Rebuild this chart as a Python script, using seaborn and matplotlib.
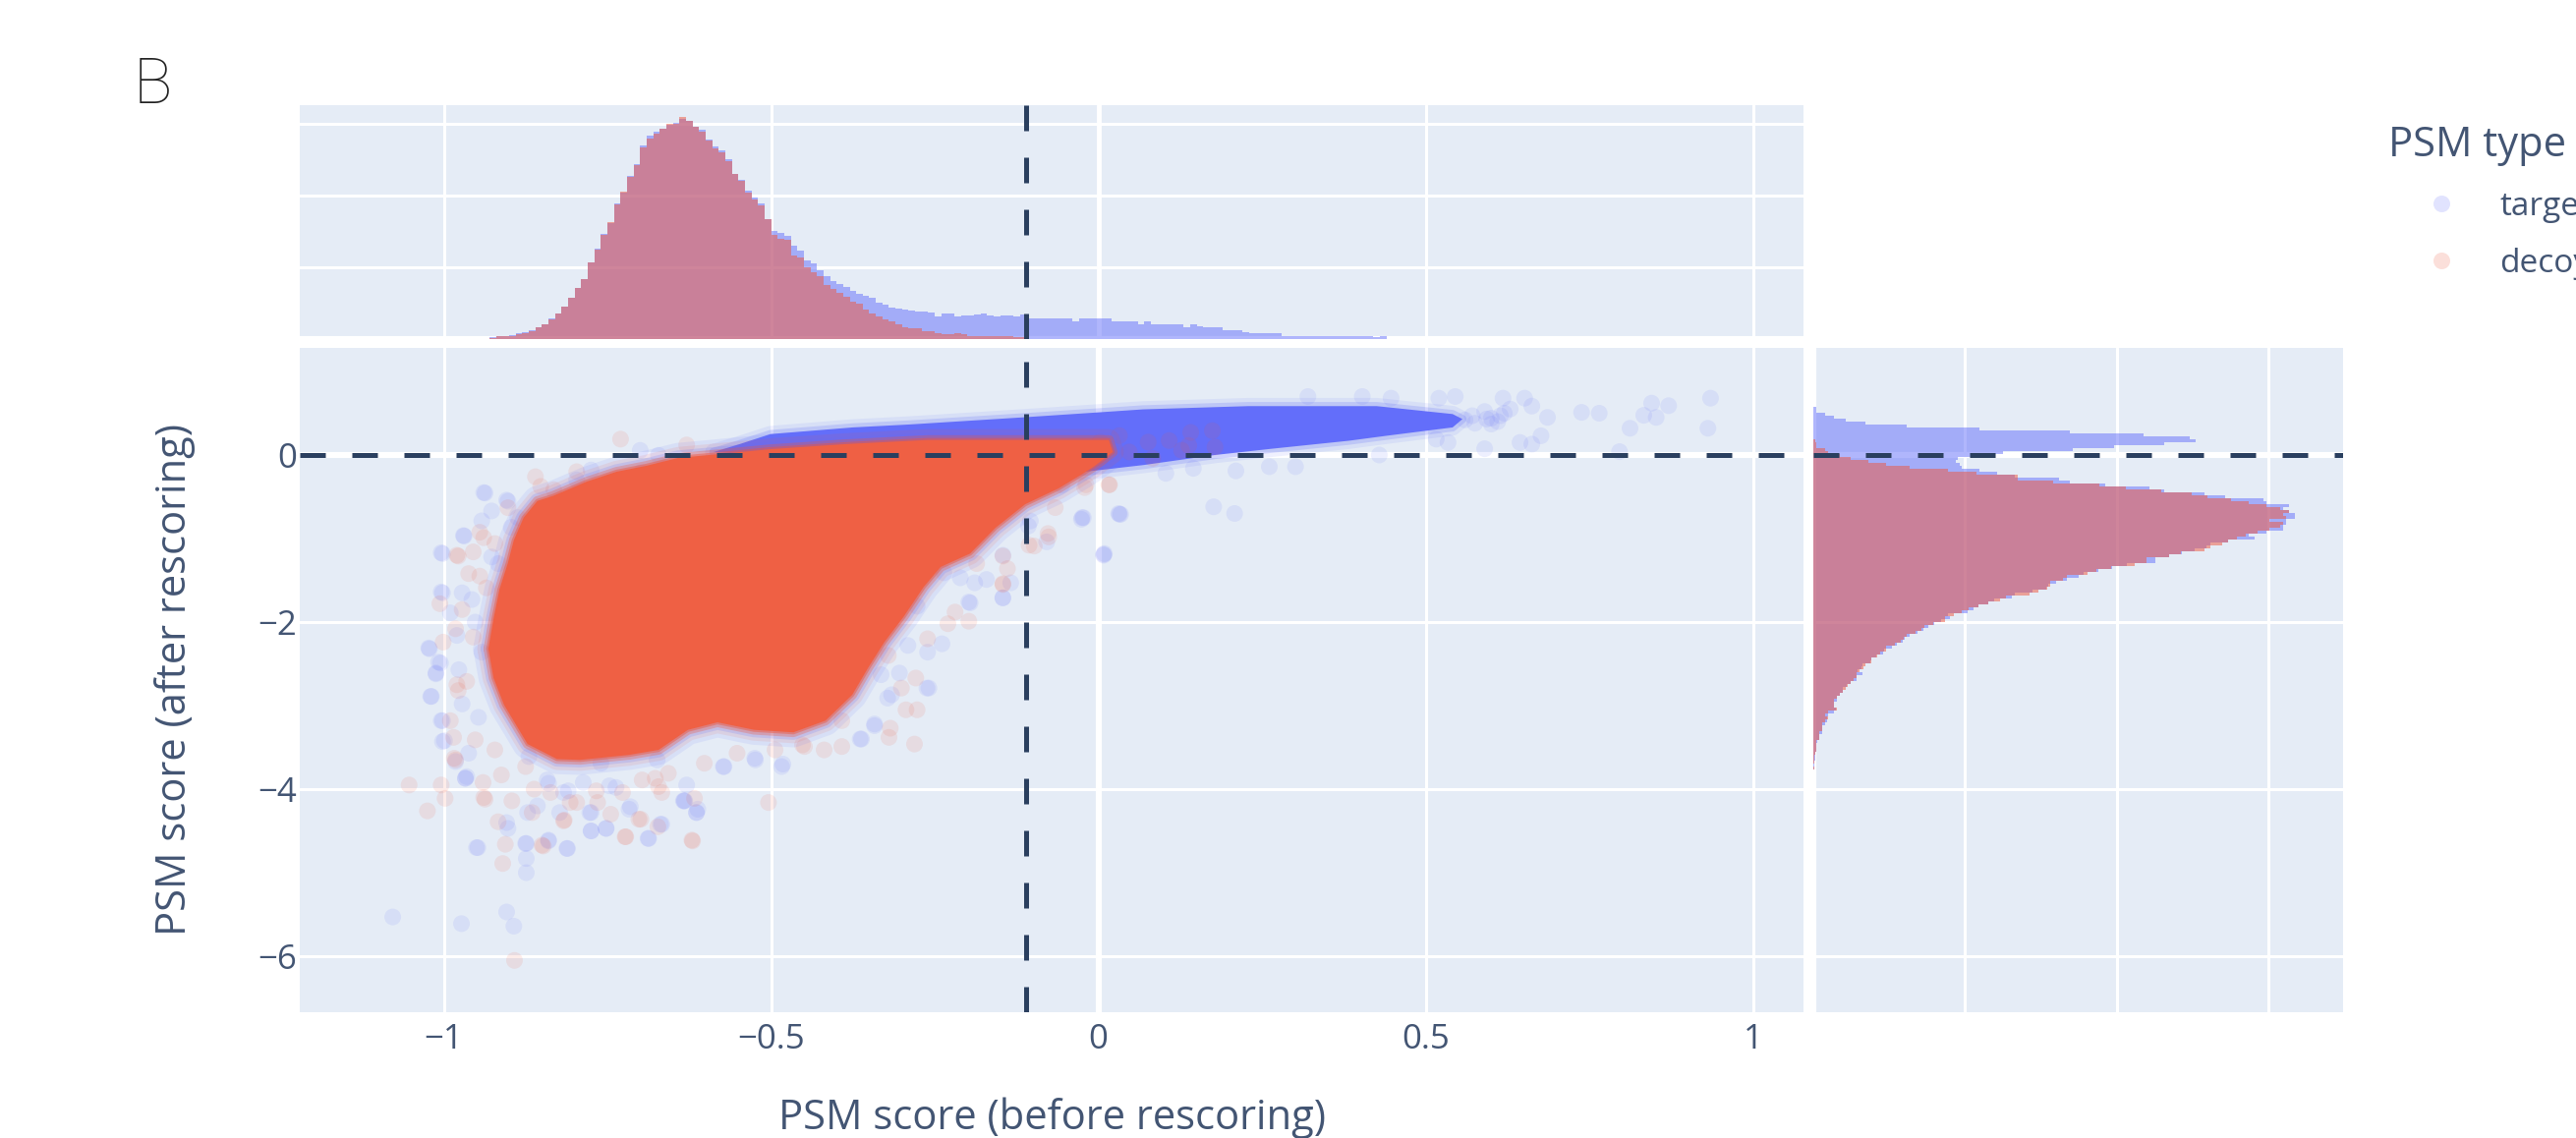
import numpy as np
import pandas as pd
import matplotlib.pyplot as plt
import seaborn as sns

TARGET = "#636EFA"
DECOY = "#EF553B"
DECOY_SOLID = "#EF6044"
INK = "#2a3f5f"
TEXT = "#435573"
PANEL = "#E5ECF6"

x_ticks = [-1, -0.5, 0, 0.5, 1]
x_tick_labels = ["−1", "−0.5", "0", "0.5", "1"]
y_ticks = [-6, -4, -2, 0]
y_tick_labels = ["−6", "−4", "−2", "0"]
before_cut = -0.11
after_cut = 0

# top histogram, bins of 0.01 starting at -0.93
top_start = -0.93
top_width = 0.01
top_target = [46, 73, 82, 100, 155, 183, 247, 320, 411, 566,
              703, 913, 1141, 1415, 1671, 2146, 2511, 2922, 3241, 3771,
              4081, 4538, 4866, 5387, 5661, 5779, 5871, 5980, 6026, 6145,
              6071, 5907, 5843, 5569, 5359, 5250, 5022, 4592, 4428, 4136,
              3953, 3789, 3332, 3013, 2967, 2876, 2602, 2465, 2191, 2100,
              1917, 1762, 1616, 1525, 1461, 1342, 1251, 1214, 1141, 1004,
              959, 886, 849, 822, 794, 758, 776, 730, 639, 703,
              703, 639, 648, 666, 685, 703, 657, 639, 657, 657,
              621, 685, 575, 575, 575, 575, 575, 575, 575, 502,
              575, 575, 575, 575, 566, 502, 493, 493, 493, 411,
              493, 411, 411, 411, 411, 411, 329, 411, 365, 329,
              329, 329, 247, 247, 247, 183, 164, 164, 164, 164,
              164, 82, 82, 82, 82, 82, 82, 82, 82, 82,
              82, 82, 82, 82, 82, 60, 82]
top_decoy = [40, 75, 82, 85, 140, 155, 210, 320, 420, 550,
             700, 900, 1150, 1420, 1680, 2130, 2500, 2900, 3260, 3750,
             4100, 4520, 4840, 5350, 5600, 5730, 5850, 6000, 6000, 6180,
             6080, 5920, 5780, 5540, 5320, 5210, 4960, 4600, 4400, 4080,
             3900, 3720, 3330, 2900, 2800, 2780, 2330, 2280, 2000, 1870,
             1760, 1500, 1400, 1280, 1180, 1050, 980, 820, 700, 620,
             550, 480, 400, 320, 310, 300, 230, 210, 160, 150,
             150, 155, 150, 85, 85, 85, 80, 80, 78, 75,
             55, 55]

# right histogram, rows of 0.0353 going down from 0.576
right_start = 0.576
right_width = 0.0353
right_target = [38, 38, 153, 268, 426, 685, 1226, 2184, 3377, 4349,
                4958, 5034, 4622, 3961, 3415, 2500, 2069, 1900, 1878, 1925,
                1959, 2184, 2419, 2654, 3233, 3377, 3841, 4426, 4618, 5154,
                5422, 5930, 5968, 6265, 6189, 6265, 6342, 6342, 6227, 6227,
                6189, 6189, 5968, 5734, 5810, 5460, 5230, 5180, 5030, 4850,
                4685, 4503, 4503, 4130, 3940, 3750, 3560, 3500, 3340, 3195,
                3100, 3075, 2885, 2654, 2610, 2380, 2300, 2180, 2108, 2030,
                1780, 1806, 1686, 1590, 1520, 1447, 1375, 1270, 1207, 1183,
                1102, 1030, 930, 920, 824, 766, 752, 647, 632, 584,
                647, 570, 570, 489, 441, 393, 383, 350, 307, 307,
                273, 273, 297, 268, 192, 177, 177, 153, 115, 115,
                115, 77, 77, 57, 38, 38, 38, 30, 20, 20,
                10, 10, 10]
right_decoy = [0, 0, 0, 0, 0, 0, 0, 0, 0, 0,
               0, 20, 38, 38, 150, 200, 345, 490, 730, 960,
               1270, 1770, 2145, 2690, 2690, 3157, 3765, 4115, 4585, 4990,
               5188, 5504, 5734, 5968, 6150, 6265, 6189, 6227, 6007, 6189,
               6150, 6007, 5853, 5695, 5580, 5460, 5384, 5230, 5160, 4842,
               4685, 4390, 4390, 4234, 3923, 3725, 3610, 3340, 3290, 3120,
               3120, 3080, 2965, 2845, 2535, 2457, 2305, 2180, 2045, 1955,
               1850, 1735, 1735, 1576, 1460, 1423, 1346, 1226, 1188, 1150,
               1073, 958, 958, 877, 838, 762, 762, 685, 656, 613,
               565, 565, 527, 489, 450, 426, 388, 350, 311, 268,
               268, 268, 307, 192, 153, 192, 153, 115, 115, 115,
               77, 77, 77, 38, 38, 38, 38, 30, 15, 10,
               10, 0, 10]

# outlines of the areas where the points pile up into a solid colour
decoy_core_x = [-0.932, -0.924, -0.915, -0.902, -0.893, -0.878, -0.857, -0.833, -0.782, -0.736,
                -0.691, -0.642, -0.594, -0.501, -0.387, -0.261, -0.145, -0.031, 0.016, 0.022,
                -0.007, -0.026, -0.061, -0.112, -0.157, -0.196, -0.241, -0.267, -0.297, -0.327,
                -0.352, -0.376, -0.417, -0.466, -0.526, -0.582, -0.627, -0.672, -0.717, -0.792,
                -0.827, -0.872, -0.908, -0.924]
decoy_core_y = [-2.32, -1.96, -1.61, -1.29, -1.02, -0.75, -0.55, -0.49, -0.32, -0.20,
                -0.13, -0.035, 0.0, 0.07, 0.13, 0.18, 0.18, 0.18, 0.18, 0.035,
                -0.14, -0.235, -0.40, -0.59, -0.87, -1.18, -1.34, -1.58, -1.93, -2.24,
                -2.55, -2.87, -3.18, -3.32, -3.29, -3.20, -3.29, -3.53, -3.59, -3.65,
                -3.64, -3.46, -2.99, -2.67]
target_core_x = [-0.588, -0.548, -0.501, -0.375, -0.289, -0.116, 0.0, 0.068, 0.229, 0.425,
                 0.541, 0.556, 0.541, 0.440, 0.382, 0.265, 0.178, 0.069, -0.020, -0.300]
target_core_y = [0.035, 0.13, 0.25, 0.33, 0.365, 0.45, 0.51, 0.546, 0.585, 0.585,
                 0.49, 0.43, 0.33, 0.23, 0.17, 0.075, 0.0, -0.12, -0.20, -0.10]

# single points that can still be told apart
target_x = [-0.939, -0.904, -0.969, -1.004, -1.004, -1.023, -1.008, -1.012, -1.019, -1.004,
            -0.999, -0.967, -0.948, -0.874, -0.874, -0.811, -0.775, -0.752, -0.688, -0.669,
            -0.614, -0.633, -0.573, -0.525, -0.482, -0.262, -0.198, -0.146, -0.107, -0.025,
            0.031, 0.009, 0.176, -1.078, -0.973, -0.904, -0.893, -0.874, -0.840, -0.904,
            -0.823, -0.775, -0.715, -0.698, 0.651, 0.662, 0.686, 0.676, 0.644, 0.662,
            0.590, 0.738, 0.765, 0.845, 0.871, 0.833, 0.852, 0.812, 0.796, 0.935,
            0.931, 0.210, 0.261, 0.301, 0.208, 0.032, 0.008, -0.023, 0.145, 0.103,
            0.429, 0.516, 0.534, 0.593, 0.618, 0.545, 0.520, 0.447, 0.403, 0.320,
            0.614, 0.571, 0.600, 0.629, 0.590, 0.610, 0.575, 0.620, 0.600, 0.560,
            -0.937, -0.902, -0.927, -0.970, -1.002, -0.942, -0.887, -0.897, -0.927, -1.002,
            -0.972, -0.990, -0.957, -0.980, -1.022, -1.005, -1.012, -0.977, -1.020, -0.972,
            -1.002, -0.947, -1.002, -0.982, -0.965, -0.962, -0.942, -0.952, -0.917, -0.797,
            -0.775, -0.700, -0.672, -0.842, -0.870, -0.817, -0.737, -0.632, -0.787, -0.872,
            -0.760, -0.674, -0.612, -0.572, -0.524, -0.484, -0.362, -0.342, -0.322, -0.629,
            -0.634, -0.614, -0.717, -0.747, -0.840, -0.810, -0.857, -0.777, -0.775, -0.752,
            -0.687, -0.667, -0.950, -0.875, -0.812, -0.840, -0.902, -0.967, -0.277, -0.196,
            -0.146, -0.134, -0.171, -0.189, -0.211, -0.236, -0.261, -0.239, -0.291, -0.304,
            -0.332, -0.316, -0.259, -0.342, -0.364, -0.026, 0.008, 0.034, -0.079, -0.104,
            -0.146, -0.024, -0.056]
target_y = [-0.45, -0.54, -0.97, -1.17, -1.64, -2.31, -2.48, -2.62, -2.89, -3.18,
            -3.42, -3.87, -4.70, -4.65, -5.00, -4.71, -4.50, -4.47, -4.59, -4.42,
            -4.28, -4.14, -3.73, -3.63, -3.70, -2.79, -1.76, -1.71, -0.85, -0.75,
            -0.70, -1.18, -0.62, -5.53, -5.61, -5.47, -5.64, -4.83, -4.62, -4.40,
            -4.28, -4.28, -4.21, -0.21, 0.68, 0.585, 0.45, 0.23, 0.15, 0.13,
            0.075, 0.51, 0.50, 0.62, 0.59, 0.475, 0.45, 0.32, 0.04, 0.68,
            0.32, -0.19, -0.14, -0.14, -0.70, -0.71, -1.19, -0.75, -0.16, -0.22,
            0.0, 0.19, 0.15, 0.43, 0.68, 0.70, 0.68, 0.68, 0.70, 0.70,
            0.47, 0.47, 0.37, 0.55, 0.52, 0.40, 0.38, 0.50, 0.44, 0.42,
            -0.455, -0.553, -0.670, -0.964, -1.18, -0.788, -0.749, -0.866, -1.22, -1.65,
            -1.65, -1.89, -1.73, -2.16, -2.32, -2.49, -2.61, -2.57, -2.89, -2.98,
            -3.18, -3.14, -3.43, -3.67, -3.85, -3.57, -2.36, -2.00, -1.30, -0.298,
            -0.18, 0.055, -0.004, -3.89, -3.61, -4.04, -3.98, -4.14, -3.92, -4.28,
            -3.69, -3.65, -4.24, -3.73, -3.65, -3.73, -3.40, -3.24, -2.91, -3.95,
            -4.14, -4.28, -4.24, -3.96, -3.93, -4.02, -4.20, -4.28, -4.50, -4.47,
            -4.59, -4.42, -4.70, -4.65, -4.71, -4.61, -4.47, -3.87, -1.81, -1.77,
            -1.71, -1.53, -1.49, -1.53, -1.47, -1.41, -2.36, -2.26, -2.28, -2.61,
            -2.63, -2.87, -2.79, -3.22, -3.40, -0.77, -1.20, -0.71, -1.04, -0.79,
            -1.20, -0.10, -0.36]
decoy_x = [-0.730, -0.629, -0.860, -1.053, -1.004, -0.998, -1.025, -1.006, -0.978, -0.939,
           -0.922, -1.001, -0.984, -0.917, -0.906, -0.910, -0.848, -0.816, -0.723, -0.699,
           -0.673, -0.620, -0.617, -0.504, -0.281, -0.277, -0.294, -0.318, -0.320, -0.219,
           -0.198, -0.230, -0.146, -0.892, -0.745, -0.797, -0.896, -0.939, -0.672, -0.978,
           -0.098, -0.077, -0.146, -0.021, -0.852, -0.902, -0.945, -0.955, -0.980, -0.945,
           -0.962, -0.935, -0.972, -0.982, -0.955, -0.980, -0.965, -0.990, -0.985, -0.952,
           -0.982, -0.922, -0.912, -0.940, -0.937, -0.862, -0.807, -0.837, -0.767, -0.677,
           -0.697, -0.797, -0.832, -0.875, -0.727, -0.657, -0.667, -0.552, -0.602, -0.452,
           -0.419, -0.392, -0.494, -0.702, -0.722, -0.621, -0.765, -0.817, -0.865, -0.850,
           -0.146, -0.139, -0.186, -0.076, -0.106, -0.066, 0.016, -0.279, -0.301, -0.449,
           -0.392, -0.321, -0.261, 0.003, 0.003, 0.032, 0.076, 0.108, 0.141, 0.138,
           0.174, 0.178, -0.019, 0.017, 0.083, 0.127, 0.047]
decoy_y = [0.19, 0.12, -0.26, -3.95, -3.95, -4.11, -4.26, -1.78, -1.21, -0.99,
           -1.06, -2.24, -3.63, -4.39, -4.66, -4.89, -4.68, -4.37, -4.57, -4.36,
           -4.45, -4.62, -4.11, -4.16, -3.46, -3.05, -3.05, -3.27, -3.38, -1.88,
           -1.99, -2.02, -1.54, -6.05, -4.30, -4.16, -4.14, -4.10, -3.97, -2.82,
           -1.09, -0.94, -1.21, -0.39, -0.376, -0.631, -0.925, -1.16, -1.20, -1.45,
           -1.42, -1.59, -1.85, -2.08, -2.18, -2.75, -2.71, -3.18, -3.38, -3.41,
           -3.65, -3.53, -3.83, -3.92, -4.12, -4.00, -4.16, -4.04, -4.02, -3.87,
           -3.89, -0.20, -0.416, -3.73, -4.04, -3.81, -4.04, -3.57, -3.69, -3.47,
           -3.53, -3.49, -3.53, -4.36, -4.57, -4.61, -4.16, -4.38, -4.28, -4.67,
           -1.55, -1.36, -1.30, -0.98, -1.08, -0.63, -0.357, -2.67, -2.79, -3.49,
           -3.18, -2.40, -2.20, 0.154, -0.04, 0.232, 0.154, 0.173, 0.27, 0.114,
           0.291, 0.095, -0.356, -0.356, -0.04, 0.056, 0.036]

points = pd.DataFrame({
    "before": target_x + decoy_x,
    "after": target_y + decoy_y,
    "PSM type": ["target"] * len(target_x) + ["decoy"] * len(decoy_x),
})

sns.set_style("darkgrid", {"axes.facecolor": PANEL, "grid.color": "white"})
plt.rcParams["font.family"] = ["Open Sans", "DejaVu Sans"]
plt.rcParams["text.color"] = TEXT
plt.rcParams["axes.labelcolor"] = TEXT
plt.rcParams["xtick.color"] = TEXT
plt.rcParams["ytick.color"] = TEXT

W, H = 2621, 1158
fig = plt.figure(figsize=(W / 100, H / 100), dpi=100)


def panel(left, top, right, bottom):
    return fig.add_axes([left / W, 1 - bottom / H, (right - left) / W, (bottom - top) / H])


ax_main = panel(305, 354, 1835, 1030)
ax_top = panel(305, 107, 1835, 345)
ax_right = panel(1845, 354, 2384, 1030)

GRID = 2.2
ZERO = 4.4
DASH = dict(color=INK, lw=3.6, ls=(0, (5.2, 5.4)), zorder=8)

# --- scatter, soft edges are strokes along the outlines
target_closed_x = target_core_x + target_core_x[:1]
target_closed_y = target_core_y + target_core_y[:1]
decoy_closed_x = decoy_core_x + decoy_core_x[:1]
decoy_closed_y = decoy_core_y + decoy_core_y[:1]

for width, alpha in [(12, 0.10), (6, 0.22)]:
    ax_main.plot(target_closed_x, target_closed_y, color=TARGET, lw=width, alpha=alpha,
                 solid_joinstyle="round", zorder=3)
ax_main.fill(target_core_x, target_core_y, color=TARGET, lw=0, zorder=3)

sns.scatterplot(data=points, x="before", y="after", hue="PSM type",
                palette={"target": TARGET, "decoy": DECOY},
                s=150, alpha=0.11, linewidth=0, ax=ax_main, zorder=4)

for width, alpha, colour in [(22, 0.10, TARGET), (16, 0.10, DECOY), (11, 0.18, TARGET),
                             (7, 0.30, DECOY), (3, 0.45, DECOY)]:
    ax_main.plot(decoy_closed_x, decoy_closed_y, color=colour, lw=width, alpha=alpha,
                 solid_joinstyle="round", zorder=5)
ax_main.fill(decoy_core_x, decoy_core_y, color=DECOY_SOLID, lw=0, zorder=5)

# --- histograms
top_edges = (top_start + top_width * np.arange(len(top_target) + 1)).tolist()
for values, colour in [(top_target, TARGET), (top_decoy, DECOY)]:
    centres = top_start + top_width * (np.arange(len(values)) + 0.5)
    sns.histplot(x=centres, weights=values, bins=top_edges, element="step",
                 color=colour, alpha=0.5, linewidth=0, ax=ax_top, zorder=4)

right_edges = (right_start - right_width * np.arange(len(right_target), -1, -1)).tolist()
for values, colour in [(right_target, TARGET), (right_decoy, DECOY)]:
    centres = right_start - right_width * (np.arange(len(values)) + 0.5)
    sns.histplot(y=centres, weights=values, bins=right_edges, element="step",
                 color=colour, alpha=0.5, linewidth=0, ax=ax_right, zorder=4)

# --- axes
main_xlim = (-1.22, 1.077)
main_ylim = (-6.67, 1.282)
for ax in (ax_main, ax_top, ax_right):
    ax.grid(True, color="white", lw=GRID, zorder=1)
    ax.set_axisbelow(True)
    ax.set_xlabel("")
    ax.set_ylabel("")
    ax.tick_params(length=0)
    for spine in ax.spines.values():
        spine.set_visible(False)

ax_main.set_xlim(main_xlim)
ax_main.set_ylim(main_ylim)
ax_main.set_xticks(x_ticks, x_tick_labels, fontsize=25)
ax_main.set_yticks(y_ticks, y_tick_labels, fontsize=25)
ax_main.tick_params(axis="x", pad=8)
ax_main.tick_params(axis="y", pad=2)
ax_main.axvline(0, color="white", lw=ZERO, zorder=2)
ax_main.axhline(0, color="white", lw=ZERO, zorder=2)
ax_main.set_xlabel("PSM score (before rescoring)", fontsize=30, labelpad=30)
ax_main.set_ylabel("PSM score (after rescoring)", fontsize=30, labelpad=46)

ax_top.set_xlim(main_xlim)
ax_top.set_ylim(0, 6520)
ax_top.set_xticks(x_ticks, [])
ax_top.set_yticks([2000, 4000, 6000], [])
ax_top.axvline(0, color="white", lw=ZERO * 0.8, zorder=2)
ax_top.axhline(0, color="white", lw=ZERO, zorder=2)

ax_right.set_ylim(main_ylim)
ax_right.set_xlim(0, 6980)
ax_right.set_xticks([2000, 4000, 6000], [])
ax_right.set_yticks(y_ticks, [])
ax_right.axhline(0, color="white", lw=ZERO, zorder=2)
ax_right.axvline(0, color="white", lw=ZERO, zorder=2)

# --- cut lines
ax_main.axvline(before_cut, **DASH)
ax_top.axvline(before_cut, ymin=1, ymax=0, **DASH)
ax_main.axhline(after_cut, **DASH)
ax_right.axhline(after_cut, **DASH)

sns.move_legend(ax_main, "upper left", bbox_to_anchor=(2430 / W, 1 - 127 / H),
                bbox_transform=fig.transFigure, frameon=False, title="PSM type",
                fontsize=24, title_fontsize=30, borderaxespad=0, borderpad=0,
                handlelength=3.24, handletextpad=0.15, labelspacing=0.75)
legend = ax_main.get_legend()
legend._legend_box.align = "left"
for handle in legend.legend_handles:
    handle.set_alpha(0.19)

fig.text(136 / W, 1 - 105 / H, "B", fontsize=47, color="#222222", va="baseline",
         family="Roboto", fontweight="light")

fig.savefig("out.png", dpi=100)
